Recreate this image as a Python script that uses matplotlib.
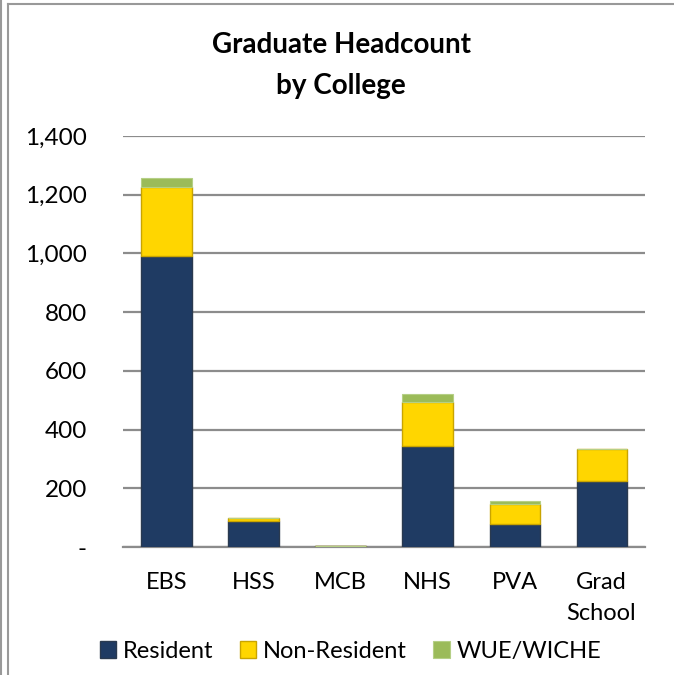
import numpy as np
import matplotlib.pyplot as plt
from matplotlib.lines import Line2D
from matplotlib.ticker import FuncFormatter

colleges = ["EBS", "HSS", "MCB", "NHS", "PVA", "Grad\nSchool"]
resident = [990, 88, 2, 345, 78, 226]
non_resident = [236, 10, 2, 150, 68, 108]
wue_wiche = [31, 1, 0, 26, 10, 0]

plt.rcParams["font.family"] = ["Lato", "DejaVu Sans"]

fig = plt.figure(figsize=(6.74, 6.75), dpi=100)
ax = fig.add_axes([0.1825, 0.1896, 0.7745, 0.6089])

x = np.arange(len(colleges))
w = 0.575

res = np.array(resident)
nr = np.array(non_resident)
wu = np.array(wue_wiche)

ax.bar(x, res, w, color="#1F3B63", edgecolor="#2a3a4f", linewidth=1, label="Resident", zorder=3)
ax.bar(x, nr, w, bottom=res, color="#FFD600", edgecolor="#C9A400", linewidth=1, label="Non-Resident", zorder=3)
ax.bar(x, wu, w, bottom=res + nr, color="#9BBB59", edgecolor="#b5cf86", linewidth=0.8, label="WUE/WICHE", zorder=3)

ax.set_xlim(-0.5, len(colleges) - 0.5)
ax.set_ylim(0, 1400)
ax.set_yticks(np.arange(0, 1401, 200))
ax.yaxis.set_major_formatter(FuncFormatter(lambda v, p: "-" if v == 0 else f"{int(v):,}"))
ax.set_xticks(x)
ax.set_xticklabels(colleges, fontsize=17, linespacing=1.6)
ax.tick_params(axis="y", length=0, pad=26, labelsize=17.5)
ax.tick_params(axis="x", length=0, pad=18)

ax.grid(axis="y", color="#8c8c8c", linewidth=1.6, zorder=0)
for s in ["top", "right", "left"]:
    ax.spines[s].set_visible(False)
ax.spines["bottom"].set_color("#8c8c8c")
ax.spines["bottom"].set_linewidth(1.6)

fig.text(0.506, 0.903, "Graduate Headcount\nby College", ha="center", va="center",
         fontsize=20, fontweight="bold", linespacing=1.75)

fig.legend(loc="lower center", bbox_to_anchor=(0.52, -0.012), ncol=3, frameon=False,
           fontsize=17, handlelength=0.7, handleheight=0.7, handletextpad=0.3,
           columnspacing=1.1)

# outer frame lines
fig.add_artist(Line2D([0.001, 0.001], [0, 1], color="#999999", linewidth=1.5, transform=fig.transFigure))
fig.add_artist(Line2D([0.0115, 0.0115], [0, 0.994], color="#999999", linewidth=1.5, transform=fig.transFigure))
fig.add_artist(Line2D([0.0115, 1], [0.994, 0.994], color="#999999", linewidth=1.5, transform=fig.transFigure))

fig.savefig("out.png", dpi=100)
